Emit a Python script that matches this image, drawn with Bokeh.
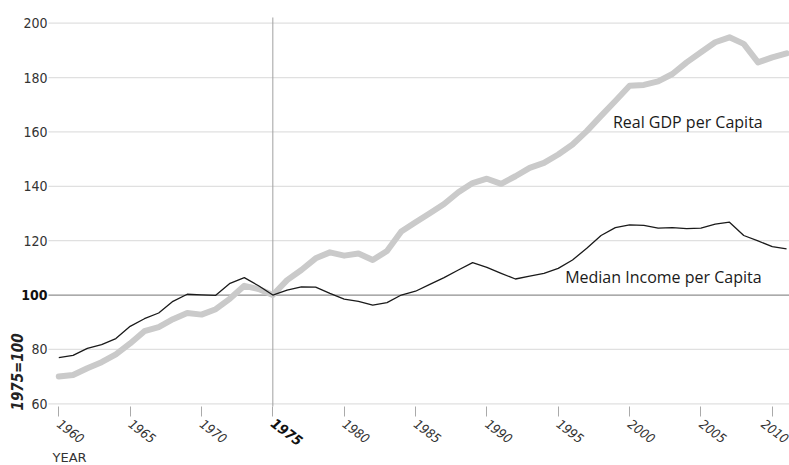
import math
from bokeh.plotting import figure
from bokeh.models import Label, FixedTicker, Range1d, LinearAxis
from bokeh.embed import file_html
from bokeh.resources import INLINE

years = list(range(1960, 2012))
median_income = [77.0, 77.8, 80.4, 81.8, 84.0, 88.5, 91.3, 93.4, 97.7, 100.3,
                 100.1, 99.9, 104.3, 106.4, 103.4, 100.0, 101.8, 103.0, 102.9, 100.6,
                 98.5, 97.7, 96.3, 97.2, 100.0, 101.4, 103.9, 106.4, 109.2, 111.9,
                 110.2, 108.0, 105.9, 107.0, 108.0, 109.8, 112.9, 117.2, 121.9, 124.8,
                 125.8, 125.6, 124.6, 124.8, 124.4, 124.6, 126.1, 126.8, 121.9, 119.9,
                 117.8, 117.0]
real_gdp = [70.0, 70.6, 73.1, 75.3, 78.2, 82.2, 86.7, 88.2, 91.1, 93.4,
            92.8, 94.8, 98.7, 103.4, 102.2, 100.0, 105.5, 109.2, 113.5, 115.7,
            114.5, 115.3, 112.9, 116.2, 123.4, 126.8, 130.1, 133.5, 137.8, 141.2,
            142.8, 140.9, 143.7, 146.8, 148.6, 151.7, 155.4, 160.3, 165.9, 171.4,
            177.0, 177.3, 178.6, 181.3, 185.6, 189.3, 193.0, 194.8, 192.4, 185.6,
            187.4, 188.9]
x_ticks = [1960, 1965, 1970, 1975, 1980, 1985, 1990, 1995, 2000, 2005, 2010]
y_ticks = [60, 80, 100, 120, 140, 160, 180, 200]
base_year = 1975
base_value = 100

NARROW = "Liberation Sans Narrow, DejaVu Sans Condensed, sans-serif"

# layout: the drawing area covers the whole canvas, the axes sit at fixed places
X_START, X_END = 1955.915, 2011.206
Y_START, Y_END = 37.30, 208.35
AX_X = 1959.278      # where the value axis sits (left edge of the chart body)
AX_Y = 59.01         # where the year axis sits (bottom edge of the chart body)
TOP_Y = 202.10       # top of the 1975 marker line

p = figure(width=789, height=465, output_backend="svg", toolbar_location=None,
           x_range=Range1d(X_START, X_END), y_range=Range1d(Y_START, Y_END),
           x_axis_location=None, y_axis_location=None,
           min_border_left=0, min_border_right=0, min_border_top=0, min_border_bottom=0)
p.outline_line_color = None
p.background_fill_color = "white"
p.border_fill_color = "white"
p.grid.visible = False

# horizontal grid lines
grid_vals = [v for v in y_ticks if v != base_value]
p.segment(x0=[AX_X] * len(grid_vals), y0=grid_vals, x1=[X_END] * len(grid_vals), y1=grid_vals,
          line_color="#e0e0e0", line_width=1.3)
p.segment(x0=[AX_X], y0=[base_value], x1=[X_END], y1=[base_value],
          line_color="#8f8f8f", line_width=1.3)
# 1975 marker line
p.segment(x0=[base_year], y0=[AX_Y], x1=[base_year], y1=[TOP_Y],
          line_color="#a0a0a0", line_width=1)

# series
p.line(years, real_gdp, line_color="#cacaca", line_width=6, line_join="round", line_cap="round")
p.line(years, median_income, line_color="#1a1a1a", line_width=1.3, line_join="round")


def styled_axis(loc, ticks, side):
    ax = LinearAxis(fixed_location=loc, ticker=FixedTicker(ticks=ticks))
    ax.axis_line_color = None
    ax.minor_tick_line_color = None
    ax.major_tick_in = 0
    p.add_layout(ax, side)
    return ax


# year axis
xa = styled_axis(AX_Y, x_ticks, "below")
xa.major_tick_line_color = "#aaaaaa"
xa.major_tick_out = 10
xa.major_label_orientation = -0.65
xa.major_label_standoff = 6
xa.major_label_text_font = NARROW
xa.major_label_text_font_style = "italic"
xa.major_label_text_font_size = "13px"
xa.major_label_text_color = "#333333"
xa.major_label_overrides = {base_year: ""}

x75 = styled_axis(AX_Y, [base_year], "below")
x75.major_tick_line_color = None
x75.major_tick_out = 10
x75.major_label_orientation = -0.65
x75.major_label_standoff = 5
x75.major_label_text_font = NARROW
x75.major_label_text_font_style = "bold italic"
x75.major_label_text_font_size = "14px"
x75.major_label_text_color = "#111111"

# value axis
ya = styled_axis(AX_X, y_ticks, "left")
ya.major_tick_line_color = None
ya.major_tick_out = 0
ya.major_label_standoff = 1
ya.major_label_text_font = NARROW
ya.major_label_text_font_size = "14px"
ya.major_label_text_color = "#333333"
ya.major_label_overrides = {base_value: ""}

y100 = styled_axis(AX_X, [base_value], "left")
y100.major_tick_line_color = None
y100.major_tick_out = 0
y100.major_label_standoff = 1
y100.major_label_text_font = NARROW
y100.major_label_text_font_style = "bold"
y100.major_label_text_font_size = "14px"
y100.major_label_text_color = "#111111"

# axis titles
p.add_layout(Label(x=1957.14, y=71.7, text="1975=100", angle=math.pi / 2,
                   text_align="center", text_baseline="middle", text_font=NARROW,
                   text_font_style="bold italic", text_font_size="15px",
                   text_color="#222222"))
p.add_layout(Label(x=1959.56, y=40.25, text="YEAR", text_align="left",
                   text_baseline="middle", text_font="DejaVu Sans",
                   text_font_size="13px", text_color="#333333"))

# series labels
p.add_layout(Label(x=2009.33, y=163.66, text="Real GDP per Capita", text_align="right",
                   text_baseline="alphabetic", text_font="Open Sans",
                   text_font_size="16px", text_color="#1a1a1a"))
p.add_layout(Label(x=2009.25, y=106.46, text="Median Income per Capita", text_align="right",
                   text_baseline="alphabetic", text_font="Open Sans",
                   text_font_size="16px", text_color="#1a1a1a"))

open("out.html", "w").write(file_html(p, INLINE))
